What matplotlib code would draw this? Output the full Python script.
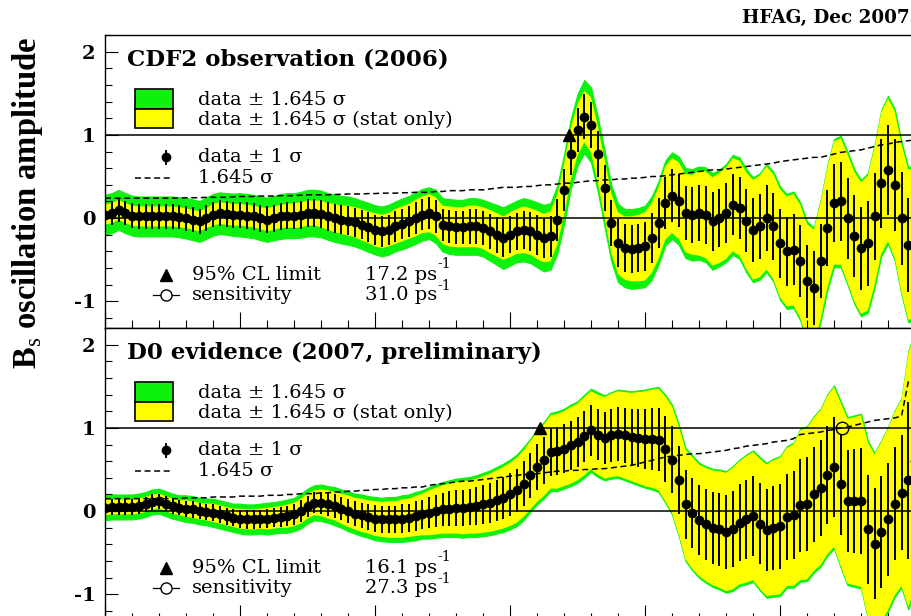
import numpy as np
import matplotlib
matplotlib.use("Agg")
import matplotlib.pyplot as plt
from matplotlib.patches import Rectangle
from matplotlib.ticker import MultipleLocator

plt.rcParams['font.family'] = ['DejaVu Serif']
plt.rcParams['mathtext.fontset'] = 'custom'
plt.rcParams['mathtext.rm'] = 'Liberation Serif'
plt.rcParams['mathtext.bf'] = 'Liberation Serif:bold'
plt.rcParams['lines.scale_dashes'] = False

# Delta m_s scan grid (ps^-1)
dms = np.linspace(0.0, 30.0, 121)

# CDF2 amplitude scan: amplitude, 1.645*sigma(total), 1.645*sigma(stat)
cdf_amp = [
    0.04, 0.06, 0.10, 0.06, 0.03, 0.02, 0.02, 0.02,
    0.02, 0.02, 0.02, 0.01, 0.00, -0.02, -0.04, 0.00,
    0.04, 0.06, 0.05, 0.04, 0.04, 0.03, 0.02, 0.00,
    -0.02, 0.00, 0.02, 0.03, 0.03, 0.04, 0.06, 0.06,
    0.05, 0.02, 0.00, -0.02, -0.03, -0.05, -0.08, -0.11,
    -0.14, -0.16, -0.14, -0.10, -0.07, -0.04, 0.00, 0.04,
    0.06, 0.02, -0.08, -0.10, -0.11, -0.11, -0.10, -0.10,
    -0.12, -0.16, -0.20, -0.24, -0.20, -0.16, -0.14, -0.16,
    -0.20, -0.24, -0.22, -0.02, 0.34, 0.77, 1.06, 1.22,
    1.12, 0.77, 0.36, -0.06, -0.30, -0.36, -0.37, -0.36,
    -0.34, -0.24, -0.06, 0.18, 0.27, 0.21, 0.06, 0.04,
    0.06, 0.04, -0.04, 0.00, 0.06, 0.16, 0.12, -0.03,
    -0.14, -0.10, 0.00, -0.10, -0.30, -0.40, -0.38, -0.52,
    -0.76, -0.84, -0.52, -0.12, 0.18, 0.20, 0.00, -0.22,
    -0.36, -0.30, 0.02, 0.42, 0.58, 0.40, 0.00, -0.32,
    -0.30]
cdf_tot = [
    0.24, 0.24, 0.24, 0.24, 0.24, 0.24, 0.24, 0.24,
    0.24, 0.24, 0.24, 0.24, 0.245, 0.245, 0.245, 0.25,
    0.25, 0.25, 0.25, 0.255, 0.26, 0.26, 0.26, 0.265,
    0.265, 0.265, 0.27, 0.27, 0.27, 0.275, 0.28, 0.28,
    0.28, 0.28, 0.285, 0.285, 0.29, 0.29, 0.29, 0.295,
    0.295, 0.30, 0.30, 0.30, 0.305, 0.305, 0.31, 0.31,
    0.31, 0.32, 0.32, 0.33, 0.33, 0.33, 0.34, 0.34,
    0.34, 0.35, 0.36, 0.37, 0.37, 0.37, 0.38, 0.38,
    0.39, 0.40, 0.40, 0.41, 0.42, 0.42, 0.43, 0.44,
    0.45, 0.45, 0.46, 0.46, 0.47, 0.47, 0.48, 0.48,
    0.49, 0.50, 0.50, 0.51, 0.52, 0.53, 0.54, 0.55,
    0.56, 0.57, 0.58, 0.58, 0.59, 0.60, 0.61, 0.62,
    0.63, 0.64, 0.65, 0.66, 0.68, 0.69, 0.70, 0.71,
    0.72, 0.73, 0.73, 0.75, 0.77, 0.79, 0.80, 0.81,
    0.82, 0.84, 0.86, 0.88, 0.89, 0.91, 0.92, 0.93,
    0.94]
cdf_stat = [
    0.12, 0.12, 0.12, 0.12, 0.12, 0.12, 0.12, 0.12,
    0.12, 0.12, 0.12, 0.12, 0.12, 0.12, 0.12, 0.12,
    0.13, 0.13, 0.13, 0.13, 0.13, 0.13, 0.13, 0.13,
    0.14, 0.14, 0.14, 0.14, 0.15, 0.15, 0.15, 0.15,
    0.16, 0.16, 0.17, 0.17, 0.18, 0.18, 0.19, 0.19,
    0.20, 0.20, 0.20, 0.21, 0.21, 0.21, 0.22, 0.22,
    0.23, 0.23, 0.23, 0.24, 0.24, 0.24, 0.25, 0.25,
    0.25, 0.26, 0.26, 0.26, 0.27, 0.27, 0.28, 0.28,
    0.29, 0.29, 0.30, 0.30, 0.31, 0.31, 0.31, 0.31,
    0.33, 0.34, 0.35, 0.36, 0.37, 0.38, 0.39, 0.40,
    0.41, 0.42, 0.43, 0.44, 0.45, 0.46, 0.47, 0.48,
    0.51, 0.52, 0.53, 0.54, 0.55, 0.56, 0.57, 0.58,
    0.60, 0.61, 0.62, 0.63, 0.65, 0.66, 0.67, 0.68,
    0.69, 0.70, 0.70, 0.72, 0.74, 0.76, 0.77, 0.78,
    0.79, 0.81, 0.83, 0.85, 0.86, 0.88, 0.89, 0.90,
    0.91]

# D0 amplitude scan
d0_amp = [
    0.04, 0.05, 0.05, 0.05, 0.05, 0.06, 0.08, 0.11,
    0.12, 0.09, 0.06, 0.04, 0.03, 0.02, 0.00, -0.01,
    -0.02, -0.04, -0.06, -0.08, -0.09, -0.10, -0.10, -0.09,
    -0.09, -0.08, -0.07, -0.06, -0.04, 0.00, 0.06, 0.10,
    0.10, 0.08, 0.06, 0.03, 0.00, -0.03, -0.05, -0.07,
    -0.09, -0.10, -0.10, -0.10, -0.09, -0.08, -0.06, -0.04,
    -0.02, 0.00, 0.02, 0.03, 0.04, 0.04, 0.05, 0.06,
    0.08, 0.10, 0.13, 0.16, 0.20, 0.25, 0.33, 0.43,
    0.53, 0.61, 0.71, 0.72, 0.75, 0.79, 0.83, 0.90,
    0.97, 0.92, 0.88, 0.91, 0.93, 0.91, 0.89, 0.88,
    0.87, 0.87, 0.86, 0.75, 0.62, 0.37, 0.08, -0.02,
    -0.11, -0.16, -0.20, -0.22, -0.25, -0.21, -0.14, -0.10,
    -0.06, -0.15, -0.23, -0.20, -0.18, -0.07, -0.05, 0.07,
    0.09, 0.20, 0.28, 0.43, 0.53, 0.32, 0.12, 0.12,
    0.12, -0.22, -0.39, -0.25, -0.10, 0.09, 0.22, 0.37,
    0.60]
d0_tot = [
    0.15, 0.15, 0.15, 0.15, 0.15, 0.15, 0.15, 0.15,
    0.15, 0.15, 0.15, 0.15, 0.16, 0.16, 0.16, 0.16,
    0.17, 0.17, 0.17, 0.17, 0.18, 0.18, 0.18, 0.18,
    0.19, 0.19, 0.19, 0.20, 0.20, 0.21, 0.21, 0.21,
    0.22, 0.22, 0.23, 0.23, 0.24, 0.24, 0.25, 0.25,
    0.26, 0.26, 0.27, 0.27, 0.28, 0.28, 0.29, 0.29,
    0.31, 0.32, 0.33, 0.34, 0.35, 0.36, 0.36, 0.37,
    0.38, 0.39, 0.40, 0.41, 0.42, 0.43, 0.44, 0.44,
    0.45, 0.46, 0.47, 0.48, 0.48, 0.49, 0.49, 0.50,
    0.50, 0.51, 0.51, 0.52, 0.53, 0.54, 0.55, 0.57,
    0.59, 0.61, 0.63, 0.65, 0.66, 0.67, 0.68, 0.69,
    0.69, 0.70, 0.71, 0.72, 0.73, 0.75, 0.76, 0.78,
    0.79, 0.80, 0.81, 0.83, 0.84, 0.85, 0.87, 0.92,
    0.93, 0.94, 0.95, 0.97, 0.98, 1.00, 1.01, 1.03,
    1.05, 1.07, 1.09, 1.10, 1.11, 1.12, 1.14, 1.55,
    1.57]
d0_stat = [
    0.09, 0.09, 0.09, 0.09, 0.09, 0.09, 0.09, 0.09,
    0.09, 0.09, 0.09, 0.09, 0.10, 0.10, 0.10, 0.10,
    0.11, 0.11, 0.11, 0.11, 0.12, 0.12, 0.12, 0.12,
    0.13, 0.13, 0.13, 0.14, 0.14, 0.15, 0.15, 0.15,
    0.16, 0.17, 0.17, 0.18, 0.19, 0.19, 0.20, 0.20,
    0.21, 0.21, 0.22, 0.22, 0.23, 0.23, 0.24, 0.25,
    0.27, 0.28, 0.29, 0.30, 0.31, 0.32, 0.32, 0.33,
    0.34, 0.35, 0.36, 0.37, 0.38, 0.39, 0.40, 0.41,
    0.42, 0.43, 0.44, 0.45, 0.45, 0.46, 0.46, 0.47,
    0.47, 0.48, 0.49, 0.50, 0.51, 0.52, 0.53, 0.55,
    0.57, 0.59, 0.61, 0.63, 0.64, 0.65, 0.66, 0.67,
    0.67, 0.68, 0.69, 0.70, 0.71, 0.73, 0.74, 0.76,
    0.77, 0.78, 0.79, 0.81, 0.82, 0.83, 0.85, 0.90,
    0.91, 0.92, 0.93, 0.95, 0.96, 0.98, 0.99, 1.01,
    1.03, 1.05, 1.07, 1.08, 1.09, 1.10, 1.12, 1.52,
    1.54]

titles = ["CDF2 observation (2006)", "D0 evidence (2007, preliminary)"]
limits = [17.2, 16.1]          # 95% CL limit (ps^-1)
sensitivities = [31.0, 27.3]   # sensitivity (ps^-1)

GREEN = '#0cf20c'
YELLOW = '#ffff00'
DASH = (4.3, 2.6)
MS = 6.0

W, H = 911, 616
fig = plt.figure(figsize=(W / 100, H / 100), dpi=100)


def px_axes(left, top, right, bottom):
    return fig.add_axes([left / W, 1 - bottom / H, (right - left) / W, (bottom - top) / H])


def draw_panel(ax, title, amp, tot, stat, limit, sens):
    amp = np.asarray(amp)
    tot = np.asarray(tot)
    stat = np.asarray(stat)
    ax.fill_between(dms, amp - tot, amp + tot, facecolor=GREEN, edgecolor=GREEN,
                    lw=0.8, zorder=1)
    ax.fill_between(dms, amp - stat, amp + stat, facecolor=YELLOW, edgecolor='none',
                    lw=0, zorder=1.1)
    ax.axhline(0, color='k', lw=1.1, zorder=2)
    ax.axhline(1, color='k', lw=1.1, zorder=2)
    ax.plot(dms, tot, color='k', lw=1.1, dashes=DASH, zorder=3)
    ax.errorbar(dms, amp, yerr=tot / 1.645, fmt='o', color='k', ms=MS,
                elinewidth=1.4, capsize=0, zorder=4)
    ax.plot([limit], [1.0], marker='^', ms=8, color='k', ls='none', zorder=5)
    ax.plot([sens], [1.0], marker='o', ms=9, mfc='none', mec='k', mew=1.0,
            ls='none', zorder=5)

    ax.set_xlim(0, 30)
    ax.set_ylim(-1.32, 2.2)
    ax.xaxis.set_major_locator(MultipleLocator(5))
    ax.xaxis.set_minor_locator(MultipleLocator(1))
    ax.set_yticks([-1, 0, 1, 2])
    ax.set_yticklabels(['-1', '0', '1', '2'], fontweight='bold', fontsize=14)
    ax.yaxis.set_minor_locator(MultipleLocator(0.2))
    ax.tick_params(which='both', direction='in', top=False, right=False,
                   labelbottom=False, width=0.8)
    ax.tick_params(axis='y', which='major', length=9.4, pad=7)
    ax.tick_params(axis='y', which='minor', length=5)
    ax.tick_params(axis='x', which='major', length=11.5)
    ax.tick_params(axis='x', which='minor', length=5.8)
    for sp in ax.spines.values():
        sp.set_linewidth(1.0)

    # title and key
    ax.text(0.81, 1.90, title, fontsize=16.5, fontweight='bold', va='center', ha='left', zorder=7)
    ax.add_patch(Rectangle((1.11, 1.31), 1.41, 0.24, facecolor=GREEN, edgecolor='k', lw=1.2, zorder=6))
    ax.add_patch(Rectangle((1.11, 1.08), 1.41, 0.23, facecolor=YELLOW, edgecolor='k', lw=1.2, zorder=6))
    ax.text(3.44, 1.42, 'data \u00b1 1.645 \u03c3', fontsize=14, va='center', zorder=7)
    ax.text(3.44, 1.18, 'data \u00b1 1.645 \u03c3 (stat only)', fontsize=14, va='center', zorder=7)
    ax.errorbar([2.26], [0.73], yerr=[0.09], fmt='o', color='k', ms=MS,
                elinewidth=1.4, capsize=0, zorder=7)
    ax.text(3.44, 0.73, 'data \u00b1 1 \u03c3', fontsize=14, va='center', zorder=7)
    ax.plot([1.11, 2.48], [0.48, 0.48], color='k', lw=1.1, dashes=DASH, zorder=7)
    ax.text(3.44, 0.48, '1.645 \u03c3', fontsize=14, va='center', zorder=7)
    ax.plot([2.26], [-0.68], marker='^', ms=8, color='k', zorder=7)
    ax.text(3.22, -0.68, '95% CL limit', fontsize=14, va='center', zorder=7)
    ax.text(9.63, -0.68, f'{limit:.1f} ps', fontsize=14, va='center', zorder=7)
    ax.plot([1.78, 2.74], [-0.92, -0.92], color='k', lw=0.9, zorder=7)
    ax.plot([2.26], [-0.92], marker='o', ms=8, mfc='white', mec='k', mew=1.0, zorder=7)
    ax.text(3.22, -0.92, 'sensitivity', fontsize=14, va='center', zorder=7)
    ax.text(9.63, -0.92, f'{sens:.1f} ps', fontsize=14, va='center', zorder=7)
    ax.text(12.32, -0.55, '-1', fontsize=10, va='center', zorder=7)
    ax.text(12.32, -0.81, '-1', fontsize=10, va='center', zorder=7)


ax_top = px_axes(105, 35, 915, 328)
ax_bot = px_axes(105, 328, 915, 621)

draw_panel(ax_top, titles[0], cdf_amp, cdf_tot, cdf_stat, limits[0], sensitivities[0])
draw_panel(ax_bot, titles[1], d0_amp, d0_tot, d0_stat, limits[1], sensitivities[1])

fig.text(742 / W, 1 - 18 / H, 'HFAG, Dec 2007', fontsize=13.2, fontweight='bold',
         ha='left', va='center')
fig.text(28 / W, 1 - 203 / H, r'B$_{\mathrm{s}}$ oscillation amplitude', rotation=90,
         fontsize=23.5, fontweight='bold', family='Liberation Serif',
         ha='center', va='center')

fig.savefig('out.png', dpi=100)
